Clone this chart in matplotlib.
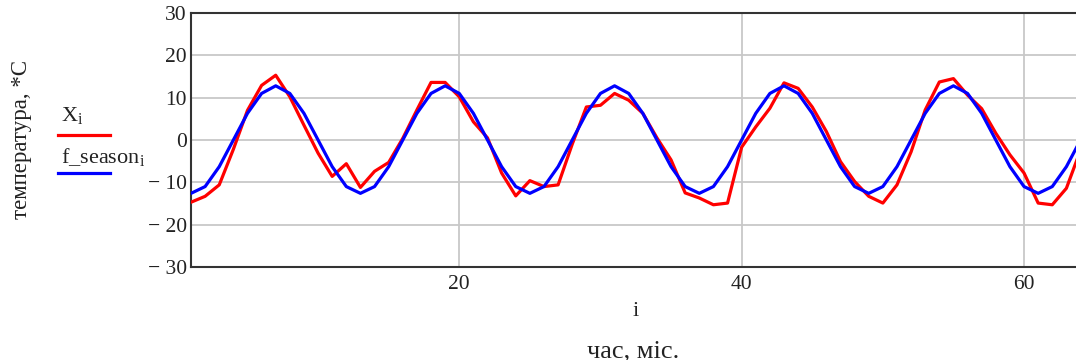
import numpy as np
import matplotlib
matplotlib.use("Agg")
import matplotlib.pyplot as plt
from matplotlib.ticker import FuncFormatter

plt.rcParams['font.family'] = ['Liberation Serif', 'DejaVu Serif']
plt.rcParams['mathtext.fontset'] = 'custom'
plt.rcParams['mathtext.rm'] = 'Liberation Serif'

# month index
i_vals = list(range(1, 65))

x_temp = [-14.7, -13.3, -10.6, -2.2, 7.0, 12.9, 15.3, 10.2, 3.5, -3.1, -8.6, -5.6,
          -11.2, -7.4, -5.3, 0.4, 7.1, 13.6, 13.6, 10.2, 4.3, 0.5, -7.8, -13.2,
          -9.6, -11.0, -10.6, -1.0, 7.8, 8.2, 11.0, 9.4, 6.3, 0.5, -4.7, -12.5,
          -13.7, -15.3, -14.9, -1.7, 3.1, 7.5, 13.5, 12.2, 7.8, 2.0, -5.1, -9.8,
          -13.3, -14.9, -10.6, -2.8, 7.1, 13.7, 14.5, 10.6, 7.4, 1.6, -3.5, -7.8,
          -14.9, -15.3, -11.4, -2.4]

# seasonal component f_season_i
f_season = [-12.6, -11.0, -6.3, 0.0, 6.3, 11.0, 12.8, 11.0, 6.3, 0.0, -6.3, -11.0,
            -12.6, -11.0, -6.3, 0.0, 6.3, 11.0, 12.8, 11.0, 6.3, 0.0, -6.3, -11.0,
            -12.6, -11.0, -6.3, 0.0, 6.3, 11.0, 12.8, 11.0, 6.3, 0.0, -6.3, -11.0,
            -12.6, -11.0, -6.3, 0.0, 6.3, 11.0, 12.8, 11.0, 6.3, 0.0, -6.3, -11.0,
            -12.6, -11.0, -6.3, 0.0, 6.3, 11.0, 12.8, 11.0, 6.3, 0.0, -6.3, -11.0,
            -12.6, -11.0, -6.3, 0.0]

y_ticks = [-30, -20, -10, 0, 10, 20, 30]
x_ticks = [20, 40, 60]

text_col = '#222222'

fig = plt.figure(figsize=(10.76, 3.6), dpi=100)
ax = fig.add_axes([191 / 1076, 1 - 267 / 360, 885 / 1076, 254 / 360])

ax.plot(i_vals, x_temp, color='#ff0000', lw=2.3, zorder=3)
ax.plot(i_vals, f_season, color='#0000ff', lw=2.3, zorder=4)

ax.set_xlim(1, 63.68)
ax.set_ylim(-30, 30)
ax.set_xticks(x_ticks)
ax.set_yticks(y_ticks)
ax.yaxis.set_major_formatter(FuncFormatter(
    lambda v, p: ('\u2212 %d' % abs(v)) if v < 0 else '%d' % v))
ax.tick_params(length=0, labelsize=15.5, colors=text_col)
ax.tick_params(axis='y', pad=3)
ax.tick_params(axis='x', pad=6)
ax.grid(True, color='#c8c8c8', lw=1.3, zorder=1)
ax.set_axisbelow(True)

for s in ['left', 'top', 'bottom']:
    ax.spines[s].set_color('#333333')
    ax.spines[s].set_linewidth(1.5)
ax.spines['right'].set_visible(False)

# axis labels
fig.text(636 / 1076, 1 - 311 / 360, 'i', ha='center', va='center',
         fontsize=16, color=text_col)
fig.text(633 / 1076, 1 - 351 / 360, 'час, міс.', ha='center', va='center',
         fontsize=19, color=text_col)
fig.text(22 / 1076, 1 - 140 / 360, 'температура, *С', ha='center', va='center',
         rotation=90, fontsize=16.5, color=text_col)

# legend drawn like Mathcad's trace labels
fig.text(61 / 1076, 1 - 116 / 360, r'$\mathregular{X_i}$', ha='left', va='center',
         fontsize=16, color=text_col)
fig.lines.append(plt.Line2D([58 / 1076, 110 / 1076], [1 - 135 / 360, 1 - 135 / 360],
                            color='#ff0000', lw=2.3, transform=fig.transFigure))
fig.text(61 / 1076, 1 - 157 / 360, r'$\mathregular{f\_season_i}$', ha='left',
         va='center', fontsize=16, color=text_col)
fig.lines.append(plt.Line2D([58 / 1076, 110 / 1076], [1 - 173 / 360, 1 - 173 / 360],
                            color='#0000ff', lw=2.3, transform=fig.transFigure))

fig.savefig('out.png', dpi=100)
